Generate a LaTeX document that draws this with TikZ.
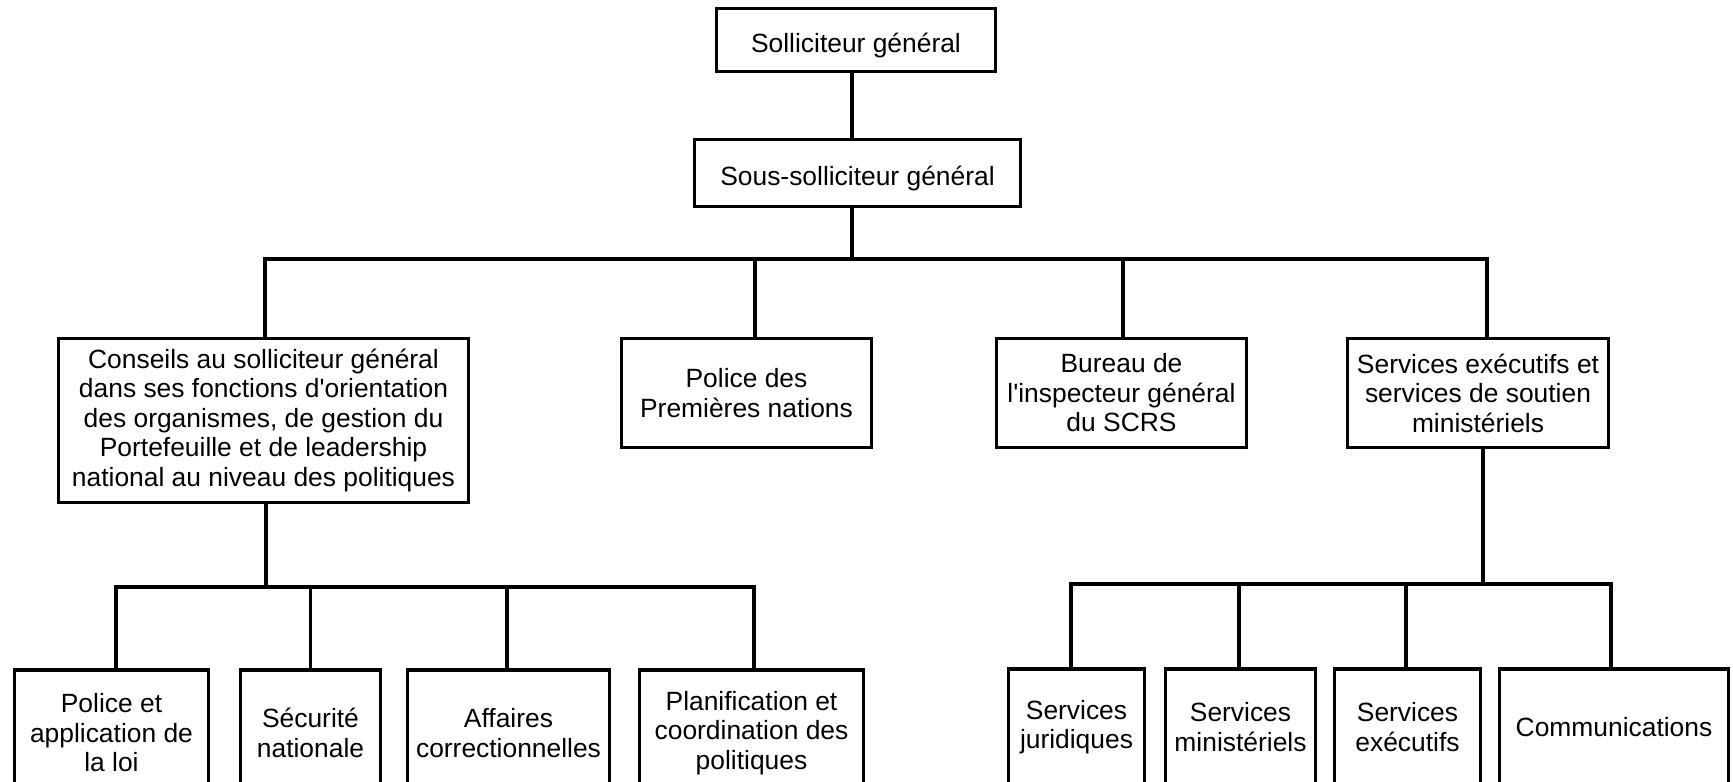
\documentclass[tikz,border=0pt]{standalone}
\usepackage{fontspec}
\setmainfont{Liberation Sans}[Ligatures=TeXOff]
\tikzset{
  poste/.style={
    draw,
    line width=3.2pt,
    align=center,
    inner sep=0pt,
    font=\fontsize{26.4}{29.5}\selectfont
  },
  tete/.style={
    poste,
    text height=24pt,
    text depth=0pt
  },
  lien/.style={
    line width=3.1pt
  },
}

\begin{document}
\begin{tikzpicture}[x=1pt,y=-1pt]
  \useasboundingbox (0,0) rectangle (1733,782);
  \clip (0,0) rectangle (1733,782);
  % direction
  \node[tete, minimum width=279pt, minimum height=63pt] (sg) at (856,40) {Solliciteur général};
  \node[tete, minimum width=326pt, minimum height=67pt] (ssg) at (857.5,173) {Sous-solliciteur général};
  % secteurs
  \node[poste, minimum width=410pt, minimum height=164pt] (conseils) at (263.5,420.5)
    {Conseils au solliciteur général\\dans ses fonctions d'orientation\\des organismes, de gestion du\\Portefeuille et de leadership\\national au niveau des politiques};
  \node[poste, minimum width=250pt, minimum height=109pt] (pn) at (746.5,393) {Police des\\Premières nations};
  \node[poste, minimum width=250pt, minimum height=109pt] (bureau) at (1121.5,393) {Bureau de\\l'inspecteur général\\du SCRS};
  \node[poste, minimum width=261pt, minimum height=109pt] (ses) at (1478,393) {Services exécutifs et\\services de soutien\\ministériels};
  % directions de gauche
  \node[poste, minimum width=194pt, minimum height=126pt] (pal) at (111.5,733) {Police et\\application de\\la loi};
  \node[poste, minimum width=140pt, minimum height=126pt] (sn) at (310.5,733) {Sécurité\\nationale};
  \node[poste, minimum width=202pt, minimum height=126pt] (ac) at (508.5,733) {Affaires\\correctionnelles};
  \node[poste, minimum width=224pt, minimum height=126pt] (pcp) at (751.5,733) {Planification et\\coordination des\\politiques};
  % directions de droite
  \node[poste, minimum width=136pt, minimum height=116pt] (sj) at (1076.5,727) {Services\\juridiques};
  \node[poste, minimum width=150pt, minimum height=116pt] (sm) at (1240.5,727) {Services\\ministériels};
  \node[poste, minimum width=146pt, minimum height=116pt] (se) at (1407.5,727) {Services\\exécutifs};
  \node[poste, minimum width=229pt, minimum height=116pt] (com) at (1614,727) {Communications};
  % barres
  \coordinate (bus1) at (0,259);
  \coordinate (bus2) at (0,587);
  \coordinate (bus3) at (0,584);
  \draw[lien] ([xshift=-4pt]sg.south) -- ([xshift=-5.5pt]ssg.north);
  \foreach \n/\dx in {conseils/1.5,pn/8.5,bureau/1.5,ses/9}
    \draw[lien] ([xshift=-5.5pt]ssg.south) -- ([xshift=-5.5pt]ssg.south |- bus1) -| ([xshift=\dx pt]\n.north);
  \foreach \n/\dx in {pal/4.5,sn/0,ac/-1.5,pcp/2.5}
    \draw[lien] ([xshift=2.5pt]conseils.south) -- ([xshift=2.5pt]conseils.south |- bus2) -| ([xshift=\dx pt]\n.north);
  \foreach \n/\dx in {sj/-5.5,sm/-1.5,se/-1.5,com/-3}
    \draw[lien] ([xshift=5pt]ses.south) -- ([xshift=5pt]ses.south |- bus3) -| ([xshift=\dx pt]\n.north);
\end{tikzpicture}
\end{document}
